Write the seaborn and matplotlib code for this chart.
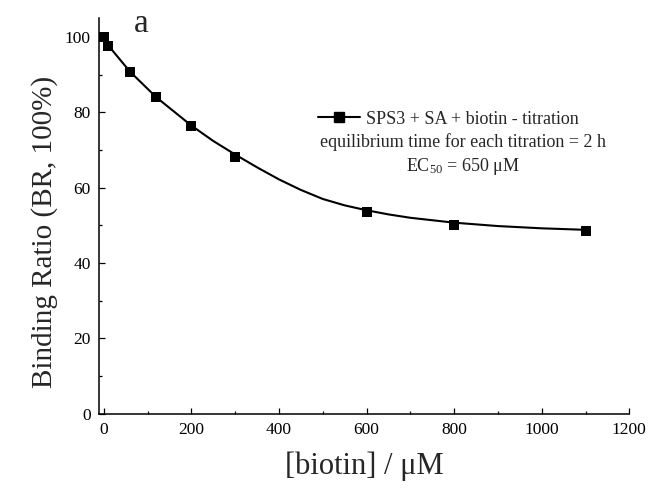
import matplotlib
matplotlib.use("Agg")
import matplotlib.pyplot as plt
from matplotlib.lines import Line2D
from matplotlib.ticker import MultipleLocator
import pandas as pd
import seaborn as sns

# Measured titration points
biotin_uM = [0, 10, 60, 120, 200, 300, 600, 800, 1100]
binding_ratio = [100.0, 97.6, 90.8, 84.2, 76.5, 68.1, 53.5, 50.1, 48.6]

# Fitted curve through the titration
fit_biotin_uM = [0, 10, 60, 120, 200, 250, 300, 350, 400, 450, 500, 550, 600,
                 650, 700, 800, 900, 1000, 1100]
fit_binding_ratio = [100.0, 97.8, 90.8, 84.0, 76.5, 72.4, 68.8, 65.4, 62.2, 59.4,
                     57.0, 55.3, 54.0, 52.9, 52.0, 50.7, 49.8, 49.2, 48.8]

x_ticks = [0, 200, 400, 600, 800, 1000, 1200]
y_ticks = [0, 20, 40, 60, 80, 100]

legend_label = "SPS3 + SA + biotin - titration"
note_line = "equilibrium time for each titration = 2 h"
ec50_line = "EC$_{50}$ = 650 μM"

sns.set_style("ticks")
plt.rcParams["font.family"] = ["Liberation Serif", "DejaVu Serif"]
plt.rcParams["mathtext.fontset"] = "custom"
plt.rcParams["mathtext.rm"] = "Liberation Serif"
plt.rcParams["mathtext.default"] = "regular"

points = pd.DataFrame({"biotin": biotin_uM, "br": binding_ratio})
fit = pd.DataFrame({"biotin": fit_biotin_uM, "br": fit_binding_ratio})

W, H = 649, 490
fig = plt.figure(figsize=(W / 100, H / 100), dpi=100)
ax = fig.add_axes([99 / W, 1 - 413.5 / H, (629.3 - 99) / W, (413.5 - 18.3) / H])

sns.lineplot(data=fit, x="biotin", y="br", ax=ax, color="black", linewidth=1.5,
             sort=True, estimator=None)
sns.scatterplot(data=points, x="biotin", y="br", ax=ax, color="black", marker="s",
                s=55, edgecolor="black", linewidth=0, zorder=3)

ax.set_xlim(-11, 1200)
ax.set_ylim(0, 105)
ax.set_xticks(x_ticks)
ax.set_yticks(y_ticks)
ax.xaxis.set_minor_locator(MultipleLocator(100))
ax.yaxis.set_minor_locator(MultipleLocator(10))

for side in ("top", "right"):
    ax.spines[side].set_visible(False)
for side in ("left", "bottom"):
    ax.spines[side].set_linewidth(1.1)
    ax.spines[side].set_color("black")

ax.tick_params(which="major", direction="in", length=4.5, width=0.9,
               labelsize=12.5, colors="black", pad=6)
ax.tick_params(which="minor", direction="in", length=2.5, width=0.9, colors="black")

ax.set_xlabel("[biotin] / μM", fontsize=22)
ax.set_ylabel("Binding Ratio (BR, 100%)", fontsize=21)
ax.xaxis.set_label_coords(0.5, (413.5 - 451) / (413.5 - 18.3))
ax.yaxis.set_label_coords((58 - 99) / (629.3 - 99), (413.5 - 232) / (413.5 - 18.3))

handle = Line2D([], [], color="black", linewidth=1.5, marker="s", markersize=6.5)
ax.legend([handle], [legend_label], loc="center left",
          bbox_to_anchor=(318 / W, 1 - 119 / H), bbox_transform=fig.transFigure,
          frameon=False, fontsize=13, borderpad=0, borderaxespad=0,
          handlelength=2.35, handletextpad=0.3)

fig.text(463 / W, 1 - 142 / H, note_line, fontsize=13, ha="center", va="center")
fig.text(463 / W, 1 - 166 / H, ec50_line, fontsize=13, ha="center", va="center")
fig.text(141.5 / W, 1 - 32.5 / H, "a", fontsize=24, ha="center", va="baseline")

fig.savefig("out.png", dpi=100, facecolor="white")
